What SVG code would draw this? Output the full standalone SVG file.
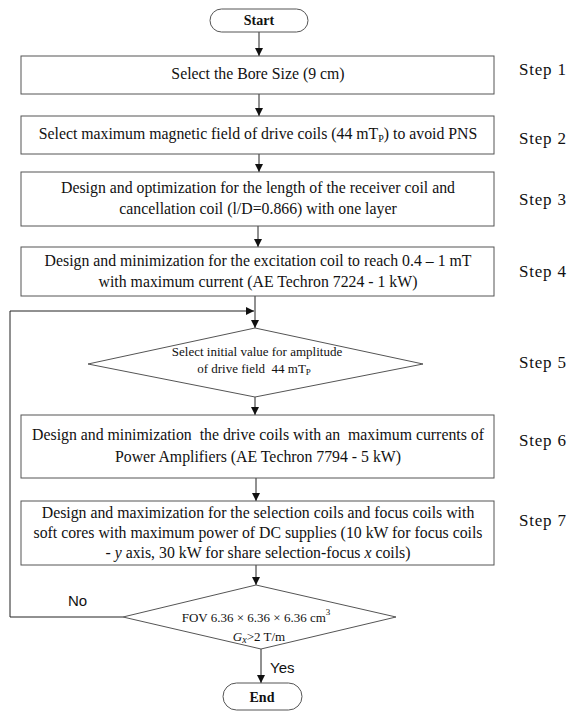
<svg xmlns="http://www.w3.org/2000/svg" width="571" height="713" viewBox="0 0 571 713">
<defs>
<marker id="ah" viewBox="0 0 10 10" refX="10" refY="5" markerWidth="8" markerHeight="8" markerUnits="userSpaceOnUse" orient="auto">
<path d="M0,0 L10,5 L0,10 z" fill="#111"/>
</marker>
<style>
.box{fill:#fff;stroke:#555;stroke-width:1}
.t{font-family:"Liberation Serif","Times New Roman",serif;font-size:15.8px;fill:#111;text-anchor:middle}
.s{font-family:"Liberation Serif","Times New Roman",serif;font-size:17px;fill:#111;letter-spacing:0.8px}
.d{font-family:"Liberation Serif","Times New Roman",serif;font-size:13px;fill:#111;text-anchor:middle}
.b{font-family:"Liberation Serif","Times New Roman",serif;font-size:14px;font-weight:bold;fill:#111;text-anchor:middle}
.l{font-family:"Liberation Sans",Arial,sans-serif;font-size:15px;fill:#111}
.c{fill:none;stroke:#222;stroke-width:1}
</style>
</defs>
<rect width="571" height="713" fill="#fff"/>
<g id="connectors">
<line class="c" x1="259" y1="32" x2="259" y2="56" marker-end="url(#ah)"/>
<line class="c" x1="259" y1="94" x2="259" y2="116" marker-end="url(#ah)"/>
<line class="c" x1="259" y1="154" x2="259" y2="172" marker-end="url(#ah)"/>
<line class="c" x1="258" y1="226" x2="258" y2="247" marker-end="url(#ah)"/>
<line class="c" x1="255" y1="296" x2="255" y2="328" marker-end="url(#ah)"/>
<line class="c" x1="255" y1="397" x2="255" y2="415" marker-end="url(#ah)"/>
<line class="c" x1="256" y1="478" x2="256" y2="501" marker-end="url(#ah)"/>
<line class="c" x1="256" y1="565" x2="256" y2="585" marker-end="url(#ah)"/>
<line class="c" x1="261" y1="649" x2="261" y2="683" marker-end="url(#ah)"/>
<path class="c" d="M123,617 H10 V311 H254" marker-end="url(#ah)"/>
<text class="l" x="68" y="606">No</text>
<text class="l" x="270" y="673">Yes</text>
</g>
<g id="start">
<rect class="box" x="210" y="9" width="98" height="23" rx="11.5"/>
<text class="b" x="259" y="25">Start</text>
</g>
<g id="step1">
<rect class="box" x="21" y="56" width="473" height="38"/>
<text class="t" x="258" y="79">Select the Bore Size (9 cm)</text>
<text class="s" x="519" y="75">Step 1</text>
</g>
<g id="step2">
<rect class="box" x="21" y="116" width="473" height="38"/>
<text class="t" x="258" y="139">Select maximum magnetic field of drive coils (44 mT<tspan font-size="10" dy="3">P</tspan><tspan dy="-3">) to avoid PNS</tspan></text>
<text class="s" x="519" y="144">Step 2</text>
</g>
<g id="step3">
<rect class="box" x="21" y="172" width="473" height="54"/>
<text class="t" x="258" y="193">Design and optimization for the length of the receiver coil and</text>
<text class="t" x="258" y="214">cancellation coil (l/D=0.866) with one layer</text>
<text class="s" x="519" y="205">Step 3</text>
</g>
<g id="step4">
<rect class="box" x="21" y="247" width="473" height="49"/>
<text class="t" x="258" y="266">Design and minimization for the excitation coil to reach 0.4 – 1 mT</text>
<text class="t" x="258" y="287">with maximum current (AE Techron 7224 - 1 kW)</text>
<text class="s" x="519" y="277">Step 4</text>
</g>
<g id="step5">
<polygon class="box" points="255,328 423,364 255,397 88,364"/>
<text class="d" x="257" y="356">Select initial value for amplitude</text>
<text class="d" x="254" y="373" xml:space="preserve">of drive field  44 mT<tspan font-size="9" dy="2">P</tspan></text>
<text class="s" x="519" y="368">Step 5</text>
</g>
<g id="step6">
<rect class="box" x="21" y="415" width="473" height="63"/>
<text class="t" x="258" y="440" xml:space="preserve">Design and minimization  the drive coils with an  maximum currents of</text>
<text class="t" x="258" y="462">Power Amplifiers (AE Techron 7794 - 5 kW)</text>
<text class="s" x="519" y="446">Step 6</text>
</g>
<g id="step7">
<rect class="box" x="21" y="501" width="473" height="64"/>
<text class="t" x="258" y="518">Design and maximization for the selection coils and focus coils with</text>
<text class="t" x="258" y="538">soft cores with maximum power of DC supplies (10 kW for focus coils</text>
<text class="t" x="258" y="558">- <tspan font-style="italic">y</tspan> axis, 30 kW for share selection-focus <tspan font-style="italic">x</tspan> coils)</text>
<text class="s" x="519" y="526">Step 7</text>
</g>
<g id="check">
<polygon class="box" points="256,585 396,617 261,649 123,617"/>
<text class="d" x="256" y="622" font-size="15">FOV 6.36 × 6.36 × 6.36 cm<tspan font-size="9" dy="-7">3</tspan></text>
<text class="d" x="259" y="641" font-size="15"><tspan font-style="italic">G</tspan><tspan font-style="italic" font-size="10" dy="2">x</tspan><tspan dy="-2">&gt;2 T/m</tspan></text>
</g>
<g id="end">
<rect class="box" x="223" y="683" width="79" height="27" rx="13.5"/>
<text class="b" x="262" y="702">End</text>
</g>
</svg>
